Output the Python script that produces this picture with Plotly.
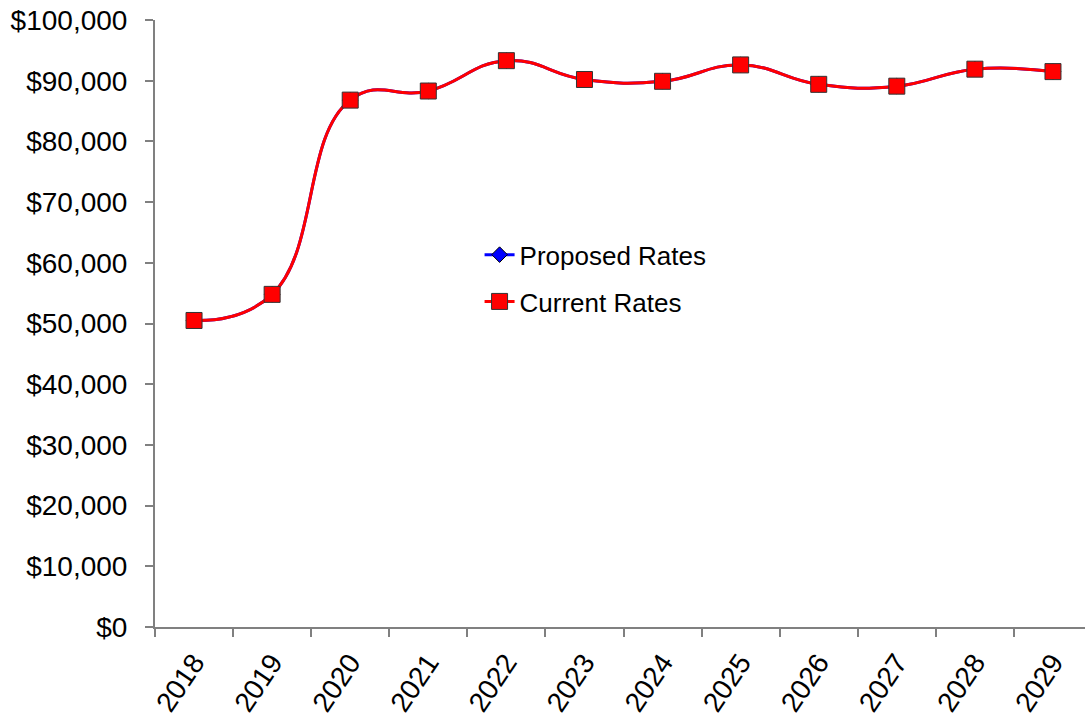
import plotly.graph_objects as go

years = ["2018", "2019", "2020", "2021", "2022", "2023",
         "2024", "2025", "2026", "2027", "2028", "2029"]
proposed_rates = [50500, 54800, 86800, 88300, 93300, 90200,
                  89900, 92600, 89400, 89100, 91900, 91500]
current_rates = [50500, 54800, 86800, 88300, 93300, 90200,
                 89900, 92600, 89400, 89100, 91900, 91500]
y_ticks = list(range(0, 100001, 10000))
y_tick_text = ["${:,}".format(v) for v in y_ticks]

FONT = "Liberation Sans, Arial, sans-serif"

fig = go.Figure()
fig.add_trace(go.Scatter(
    x=years, y=proposed_rates, name="Proposed Rates",
    mode="lines+markers", legendgroup="p",
    line=dict(color="#0000FF", width=3, shape="spline", smoothing=1.3),
    marker=dict(symbol="diamond", size=12, color="#0000FF",
                line=dict(color="black", width=1)),
))
fig.add_trace(go.Scatter(
    x=years, y=current_rates, name="Current Rates",
    mode="lines+markers", legendgroup="c",
    line=dict(color="#FF0000", width=3, shape="spline", smoothing=1.3),
    marker=dict(symbol="square", size=16, color="#FF0000",
                line=dict(color="#333333", width=1)),
))

fig.update_layout(
    width=1085, height=717,
    margin=dict(l=155, r=0, t=20, b=90),
    paper_bgcolor="white", plot_bgcolor="white",
    font=dict(family=FONT, size=26, color="black"),
    showlegend=True,
    legend=dict(x=0.349, y=0.652, xanchor="left", yanchor="top",
                bgcolor="rgba(0,0,0,0)", tracegroupgap=10,
                font=dict(size=26), itemwidth=30),
    xaxis=dict(
        type="category", range=[-0.5, 11.41],
        showline=True, linecolor="#808080", linewidth=2,
        ticks="outside", ticklen=8, tickcolor="#808080", tickwidth=2,
        tickson="boundaries", tickangle=-56, showgrid=False,
        tickfont=dict(size=28), ticklabelstandoff=6,
    ),
    yaxis=dict(
        range=[0, 100000], tickvals=y_ticks, ticktext=y_tick_text,
        showline=True, linecolor="#808080", linewidth=2,
        ticks="outside", ticklen=8, tickcolor="#808080", tickwidth=2,
        showgrid=False, zeroline=False,
        tickfont=dict(size=28), ticklabelstandoff=12,
    ),
)

fig.write_html("out.html")
